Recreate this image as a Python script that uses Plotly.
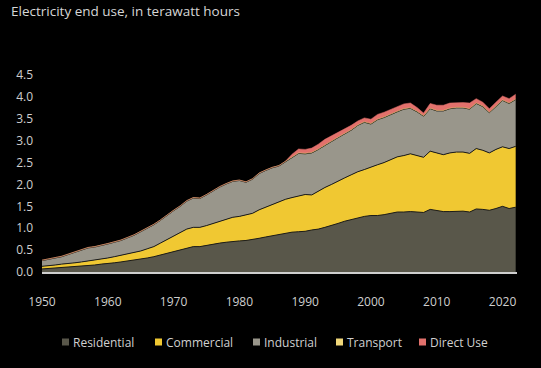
import plotly.graph_objects as go

years = list(range(1950, 2023))

residential = [0.07, 0.08, 0.09, 0.10, 0.11, 0.12, 0.13, 0.15, 0.16, 0.18,
               0.19, 0.21, 0.23, 0.25, 0.27, 0.29, 0.32, 0.35, 0.39, 0.43,
               0.47, 0.51, 0.55, 0.58, 0.58, 0.61, 0.64, 0.66, 0.68, 0.70,
               0.71, 0.72, 0.74, 0.77, 0.80, 0.83, 0.86, 0.89, 0.91, 0.92,
               0.93, 0.96, 0.98, 1.02, 1.06, 1.11, 1.16, 1.20, 1.24, 1.27,
               1.29, 1.29, 1.31, 1.34, 1.37, 1.37, 1.38, 1.37, 1.36, 1.43,
               1.40, 1.38, 1.38, 1.39, 1.39, 1.37, 1.44, 1.43, 1.41, 1.45,
               1.50, 1.45, 1.48]

commercial = [0.06, 0.06, 0.07, 0.08, 0.08, 0.09, 0.10, 0.10, 0.11, 0.11,
              0.13, 0.14, 0.15, 0.16, 0.17, 0.19, 0.21, 0.23, 0.27, 0.31,
              0.35, 0.39, 0.43, 0.44, 0.44, 0.45, 0.47, 0.50, 0.53, 0.55,
              0.56, 0.58, 0.60, 0.65, 0.68, 0.72, 0.74, 0.77, 0.79, 0.81,
              0.84, 0.80, 0.87, 0.91, 0.94, 0.97, 0.99, 1.02, 1.05, 1.07,
              1.11, 1.16, 1.19, 1.23, 1.26, 1.29, 1.32, 1.29, 1.26, 1.33,
              1.32, 1.30, 1.34, 1.35, 1.35, 1.34, 1.38, 1.35, 1.31, 1.35,
              1.36, 1.37, 1.39]

industrial = [0.13, 0.15, 0.16, 0.17, 0.21, 0.24, 0.27, 0.30, 0.30, 0.31,
              0.32, 0.33, 0.34, 0.37, 0.40, 0.44, 0.47, 0.50, 0.52, 0.56,
              0.58, 0.60, 0.64, 0.67, 0.66, 0.70, 0.75, 0.78, 0.80, 0.82,
              0.82, 0.75, 0.78, 0.83, 0.84, 0.83, 0.82, 0.86, 0.92, 0.98,
              0.93, 0.96, 0.95, 0.97, 0.98, 0.99, 1.00, 1.02, 1.06, 1.08,
              0.98, 1.03, 1.03, 1.03, 1.03, 1.06, 1.04, 1.00, 0.94, 0.97,
              0.96, 1.00, 1.01, 1.01, 1.01, 1.01, 1.03, 1.00, 0.92, 0.98,
              1.06, 1.03, 1.07]

transport = [0.01, 0.01, 0.01, 0.01, 0.01, 0.01, 0.01, 0.01, 0.01, 0.01,
             0.01, 0.01, 0.01, 0.01, 0.01, 0.01, 0.01, 0.01, 0.01, 0.01,
             0.01, 0.01, 0.01, 0.01, 0.01, 0.01, 0.01, 0.01, 0.01, 0.01,
             0.01, 0.01, 0.01, 0.01, 0.01, 0.01, 0.01, 0.01, 0.01, 0.01,
             0.01, 0.01, 0.01, 0.01, 0.01, 0.01, 0.01, 0.01, 0.01, 0.01,
             0.01, 0.01, 0.01, 0.01, 0.01, 0.01, 0.01, 0.01, 0.01, 0.01,
             0.01, 0.01, 0.01, 0.01, 0.01, 0.01, 0.01, 0.01, 0.01, 0.01,
             0.01, 0.01, 0.01]

direct_use = [0.0, 0.0, 0.0, 0.0, 0.0, 0.0, 0.0, 0.0, 0.0, 0.0,
              0.0, 0.0, 0.0, 0.0, 0.0, 0.0, 0.0, 0.0, 0.0, 0.0,
              0.0, 0.0, 0.0, 0.0, 0.0, 0.0, 0.0, 0.0, 0.0, 0.0,
              0.0, 0.0, 0.0, 0.0, 0.0, 0.0, 0.0, 0.0, 0.06, 0.09,
              0.09, 0.10, 0.11, 0.12, 0.12, 0.11, 0.11, 0.10, 0.09, 0.09,
              0.10, 0.11, 0.11, 0.10, 0.10, 0.11, 0.11, 0.09, 0.06, 0.11,
              0.12, 0.12, 0.12, 0.11, 0.11, 0.13, 0.10, 0.09, 0.08, 0.09,
              0.09, 0.10, 0.11]

series_names = ["Residential", "Commercial", "Industrial", "Transport", "Direct Use"]
series_values = [residential, commercial, industrial, transport, direct_use]
series_colors = ["#59574a", "#f0c832", "#99968b", "#f0d77a", "#e2716c"]
series_outline = [True, True, True, False, False]

y_ticks = [0.0, 0.5, 1.0, 1.5, 2.0, 2.5, 3.0, 3.5, 4.0, 4.5]
x_ticks = [1950, 1960, 1970, 1980, 1990, 2000, 2010, 2020]

W, H = 541, 368
ML, MR, MT, MB = 42, 24, 75, 96
PW, PH = W - ML - MR, H - MT - MB

fig = go.Figure()
for name, vals, color, outl in zip(series_names, series_values, series_colors, series_outline):
    fig.add_trace(go.Scatter(
        x=years, y=vals, name=name, stackgroup="one", mode="lines",
        fillcolor=color,
        line=dict(width=1 if outl else 0.5, color="#1c1c1a" if outl else color),
        showlegend=False, hoverinfo="skip",
    ))

# custom legend (small squares close to the text), placed in pixel terms
legend_square_px = [62, 155, 253, 336, 419]
legend_y_px = 342
shapes = []
annotations = []
for name, color, sx in zip(series_names, series_colors, legend_square_px):
    x0 = (sx - ML) / PW
    x1 = (sx + 7 - ML) / PW
    yc = (H - MB - legend_y_px) / PH
    hh = 3.5 / PH
    shapes.append(dict(type="rect", xref="paper", yref="paper",
                       x0=x0, x1=x1, y0=yc - hh, y1=yc + hh,
                       fillcolor=color, line=dict(width=0)))
    annotations.append(dict(text=name, xref="paper", yref="paper",
                            x=(sx + 9 - ML) / PW, y=yc, xanchor="left", yanchor="middle",
                            showarrow=False, font=dict(size=12, color="#d0d0d0")))

fig.update_layout(
    width=W, height=H, autosize=False,
    paper_bgcolor="#000000", plot_bgcolor="#000000",
    margin=dict(l=ML, r=MR, t=MT, b=MB),
    font=dict(family="Open Sans", color="#cfcfcf", size=12),
    title=dict(text="Electricity end use, in terawatt hours",
               x=11 / W, xanchor="left", y=1 - 7 / H, yanchor="top",
               font=dict(size=13.5, color="#d6d6d6")),
    showlegend=False,
    shapes=shapes,
    annotations=annotations,
    xaxis=dict(range=[1950, 2022.2], tickvals=x_ticks, showgrid=False,
               zeroline=False, showline=True, linecolor="#cfcfcf", linewidth=2,
               ticks="", ticklabelstandoff=18, tickfont=dict(size=12)),
    yaxis=dict(range=[0, 4.5], tickvals=y_ticks, tickformat=".1f",
               showgrid=False, zeroline=False, showline=False, ticks="",
               ticklabelstandoff=8, tickfont=dict(size=12)),
)

fig.write_html("out.html", config={"responsive": False, "displayModeBar": False},
               post_script=["document.body.style.margin='0';document.body.style.background='#000';"])
